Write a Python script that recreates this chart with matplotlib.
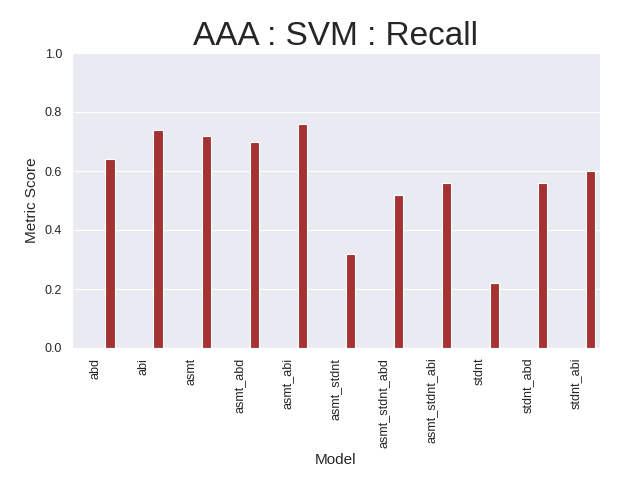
import numpy as np
import matplotlib
matplotlib.use('Agg')
import matplotlib.pyplot as plt
import seaborn as sns

models = ['abd', 'abi', 'asmt', 'asmt_abd', 'asmt_abi', 'asmt_stdnt',
          'asmt_stdnt_abd', 'asmt_stdnt_abi', 'stdnt', 'stdnt_abd', 'stdnt_abi']
recall = [0.64, 0.74, 0.72, 0.70, 0.76, 0.32, 0.52, 0.56, 0.22, 0.56, 0.60]

sns.set_style('darkgrid')
plt.rcParams['font.family'] = ['Liberation Sans', 'DejaVu Sans']
fig, ax = plt.subplots(figsize=(6.25, 5), dpi=100)

x = np.arange(len(models))
# bar sits in the last of four hue slots
ax.bar(x + 0.3, recall, width=0.2, color='#a33232', edgecolor='white', linewidth=0.8)

ax.set_xlim(-0.5, len(models) - 0.5)
ax.set_ylim(0, 1.0)
ax.set_xticks(x)
ax.set_xticklabels(models, rotation=90)
ax.grid(axis='x', visible=False)
ax.set_xlabel('Model', fontsize=11)
ax.set_ylabel('Metric Score', fontsize=11)
ax.set_title('AAA : SVM : Recall', fontsize=24)
ax.tick_params(labelsize=9)

plt.subplots_adjust(left=0.115, right=0.96, top=0.894, bottom=0.304)
plt.savefig('out.png')
plt.close()
